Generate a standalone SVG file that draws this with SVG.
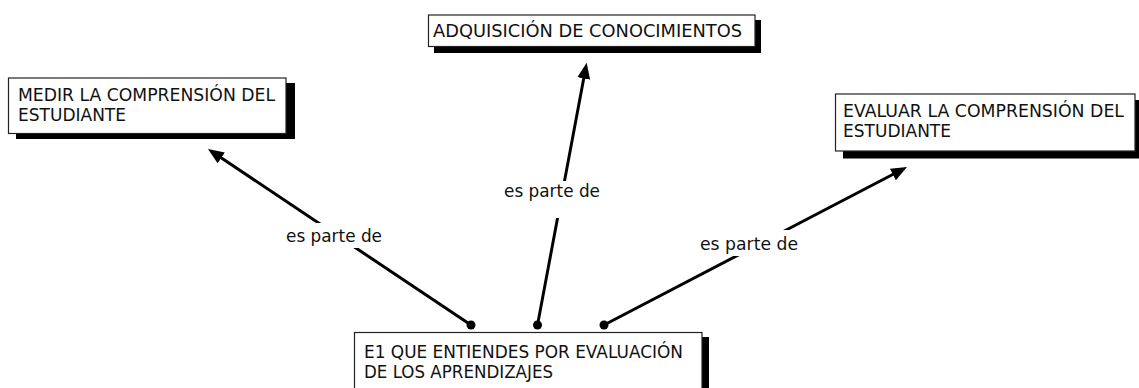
<svg xmlns="http://www.w3.org/2000/svg" width="1139" height="388" viewBox="0 0 1139 388">
<style>
.box{fill:#fff;stroke:#222;stroke-width:1.2}
.shadow{fill:#000}
.t{font-family:"DejaVu Sans",Verdana,sans-serif;font-size:18px;fill:#111}
.conn{stroke:#000;stroke-width:3;fill:none}
.lblbg{fill:#fff}
</style>
<defs>
<marker id="arrow" markerUnits="userSpaceOnUse" markerWidth="18" markerHeight="14" refX="2" refY="6.5" orient="auto">
<path d="M0,0 L16,6.5 L0,13 z" fill="#000"/>
</marker>
</defs>
<rect width="1139" height="388" fill="#fff"/>
<g id="connectors">
<line class="conn" x1="471" y1="325" x2="219.6" y2="156.8" marker-end="url(#arrow)"/>
<circle cx="471" cy="325" r="4.5" fill="#000"/>
<line class="conn" x1="537.5" y1="325" x2="584.1" y2="76.5" marker-end="url(#arrow)"/>
<circle cx="537.5" cy="325" r="4.5" fill="#000"/>
<line class="conn" x1="604" y1="325" x2="894.6" y2="173.5" marker-end="url(#arrow)"/>
<circle cx="604" cy="325" r="4.5" fill="#000"/>
<rect class="lblbg" x="283" y="223" width="102" height="25"/>
<text class="t" x="286" y="242" textLength="96" lengthAdjust="spacingAndGlyphs">es parte de</text>
<rect class="lblbg" x="502" y="181" width="101" height="37"/>
<text class="t" x="504" y="197" textLength="96" lengthAdjust="spacingAndGlyphs">es parte de</text>
<rect class="lblbg" x="697" y="230" width="104" height="26"/>
<text class="t" x="700" y="250" textLength="98" lengthAdjust="spacingAndGlyphs">es parte de</text>
</g>
<g id="node-adquisicion">
<rect class="shadow" x="434" y="20" width="327" height="33"/>
<rect class="box" x="428.5" y="15" width="326.5" height="31.5"/>
<text class="t" x="433" y="37" textLength="309" lengthAdjust="spacingAndGlyphs">ADQUISICIÓN DE CONOCIMIENTOS</text>
</g>
<g id="node-medir">
<rect class="shadow" x="16" y="83" width="279" height="56"/>
<rect class="box" x="8.5" y="78" width="277.5" height="55.5"/>
<text class="t" x="18" y="101" textLength="257" lengthAdjust="spacingAndGlyphs">MEDIR LA COMPRENSIÓN DEL</text>
<text class="t" x="18" y="121" textLength="108" lengthAdjust="spacingAndGlyphs">ESTUDIANTE</text>
</g>
<g id="node-evaluar">
<rect class="shadow" x="843" y="100" width="300" height="58.5"/>
<rect class="box" x="835.5" y="94" width="299.5" height="57"/>
<text class="t" x="843" y="117" textLength="281" lengthAdjust="spacingAndGlyphs">EVALUAR LA COMPRENSIÓN DEL</text>
<text class="t" x="843" y="137" textLength="108" lengthAdjust="spacingAndGlyphs">ESTUDIANTE</text>
</g>
<g id="node-e1">
<rect class="shadow" x="361" y="337" width="348" height="60"/>
<rect class="box" x="354.5" y="332.5" width="347.5" height="60"/>
<text class="t" x="364" y="358" textLength="319" lengthAdjust="spacingAndGlyphs">E1 QUE ENTIENDES POR EVALUACIÓN</text>
<text class="t" x="364" y="378" textLength="189" lengthAdjust="spacingAndGlyphs">DE LOS APRENDIZAJES</text>
</g>
</svg>
